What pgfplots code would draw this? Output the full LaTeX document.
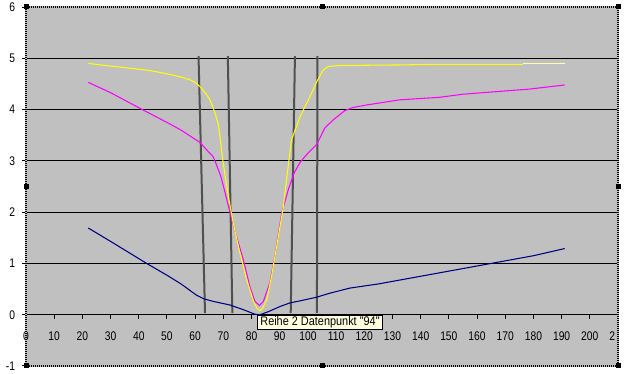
\documentclass[border=0pt]{standalone}
\usepackage{pgfplots}
\pgfplotsset{compat=1.18}
\usepackage{fontspec}
\setmainfont{Liberation Sans}
\newfontfamily\tickfont[FakeStretch=0.82]{Liberation Sans}
\newfontfamily\tipfont[FakeStretch=0.87]{Liberation Sans}
\definecolor{plotgray}{HTML}{C0C0C0}
\definecolor{navy}{HTML}{000080}
\definecolor{vline}{HTML}{505050}
\definecolor{tipbg}{HTML}{FFFFE1}
\definecolor{paleyellow}{HTML}{FFFFB0}
\definecolor{pureyellow}{HTML}{FFFF00}
\definecolor{puremagenta}{HTML}{FF00FF}
\begin{document}
\begin{tikzpicture}[x=0.75pt,y=0.75pt]
\fill[white] (0,0) rectangle (633,374);
\useasboundingbox (0,0) rectangle (633,374);
\begin{axis}[
  at={(19.5pt,6pt)}, anchor=south west,
  scale only axis, width=444pt, height=269.25pt,
  xmin=0, xmax=210, ymin=-1, ymax=6,
  axis x line=middle, axis y line=left,
  axis line style={-},
  y axis line style={draw=none},
  x axis line style={black, line width=0.75pt},
  hide obscured x ticks=false, hide obscured y ticks=false,
  xtick={0,10,...,210},
  xticklabels={0,10,20,30,40,50,60,70,80,90,100,110,120,130,140,150,160,170,180,190,200,2\phantom{10}},
  ytick={-1,0,...,6},
  yticklabels={-1,0,1,2,3,4,5,6},
  tick align=outside,
  major tick length=3pt,
  tick style={black, line width=0.75pt},
  ymajorgrids, grid style={black, line width=0.75pt},
  axis background/.style={fill=plotgray},
  tick label style={font=\tickfont\fontsize{9.4}{10}\selectfont, inner sep=0pt},
  yticklabel style={anchor=east, xshift=-5pt},
  xticklabel style={anchor=north, yshift=-9.5pt},
  clip=false,
]
% vertical marker lines
\addplot[vline, line width=1.5pt] coordinates {(61.2,5.04) (63.5,0.03)};
\addplot[vline, line width=1.5pt] coordinates {(71.6,5.04) (73.2,0.03)};
\addplot[vline, line width=1.5pt] coordinates {(95.4,5.04) (93.9,0.03)};
\addplot[vline, line width=1.5pt] coordinates {(103.4,5.04) (103.2,0.03)};
% blue
\addplot[navy, line width=0.8pt] coordinates {
(22.1,1.69) (30,1.43) (42.8,1.00) (50,0.77) (55,0.60) (60.5,0.38) (63.1,0.31)
(66.4,0.26) (72.3,0.19) (77,0.10) (81.2,0.01) (83,0.00) (86,0.06) (90.1,0.16)
(93.6,0.23) (97.2,0.27) (103,0.34) (107.8,0.42) (115,0.52) (125,0.60) (135,0.70)
(150,0.85) (165,1.00) (180,1.15) (191.1,1.29)};
% magenta
\addplot[puremagenta, line width=0.8pt] coordinates {
(22.1,4.53) (30,4.33) (41.6,3.99) (50,3.75) (55,3.60) (61.7,3.36) (64,3.22)
(66.4,3.08) (67.6,2.92) (69.1,2.70) (70.3,2.45) (72.3,2.01) (74.7,1.52) (77.1,1.07)
(79.4,0.55) (81.2,0.26) (82.8,0.18) (84.2,0.26) (86.5,0.62) (88.3,1.14) (90.7,1.98)
(93.0,2.43) (95.0,2.75) (97.2,2.97) (100,3.15) (103.1,3.32) (106.0,3.64) (109,3.80)
(113.1,3.98) (116,4.04) (120.8,4.09) (132.6,4.19) (146.8,4.24) (155.1,4.30)
(166.9,4.35) (178.7,4.40) (191.1,4.48)};
% yellow
\addplot[pureyellow, line width=0.8pt] coordinates {
(22.1,4.90) (28,4.86) (34.5,4.82) (42.8,4.77) (48,4.72) (52.3,4.67) (56,4.62)
(58.2,4.58) (60,4.53) (61.7,4.45) (63.5,4.33) (65.2,4.20) (67.1,3.93) (68.3,3.70)
(69.1,3.34) (69.8,3.02) (70.6,2.72) (71.8,2.30) (73.5,1.79) (75.9,1.20) (78.3,0.68)
(80.7,0.26) (82,0.12) (83.0,0.08) (84,0.13) (85.4,0.29) (87.1,0.75) (89.5,1.52)
(91.3,2.11) (92.4,2.63) (94.2,3.41) (97.2,3.86) (100.7,4.25) (103.3,4.56)
(105.4,4.77) (107.2,4.84) (111.3,4.86) (132.6,4.87) (143.3,4.88) (176.3,4.88)};
\addplot[paleyellow, line width=0.8pt] coordinates {(176.3,4.90) (191.1,4.90)};
% selection border
\draw[plotgray, line width=1.5pt] (rel axis cs:0,0) rectangle (rel axis cs:1,1);
\draw[black, line width=1.5pt, dash pattern=on 0.75pt off 0.75pt] (rel axis cs:0,0) rectangle (rel axis cs:1,1);
\coordinate (tt) at (axis cs:81.9,0);
\end{axis}
\node[anchor=north west, draw=black, line width=0.75pt, fill=tipbg, inner xsep=2.25pt, inner ysep=0pt, minimum height=11pt, font=\tipfont\fontsize{9.4}{10}\selectfont] at (tt) {Reihe 2 Datenpunkt "94"};
\foreach \hx/\hy in {26/8,322/8,618/8,26/187.5,618/187.5,26/367,322/367,618/367}{
  \fill[black] (\hx-2.5,\hy-2.5) rectangle +(5,5);}
\end{tikzpicture}
\end{document}
